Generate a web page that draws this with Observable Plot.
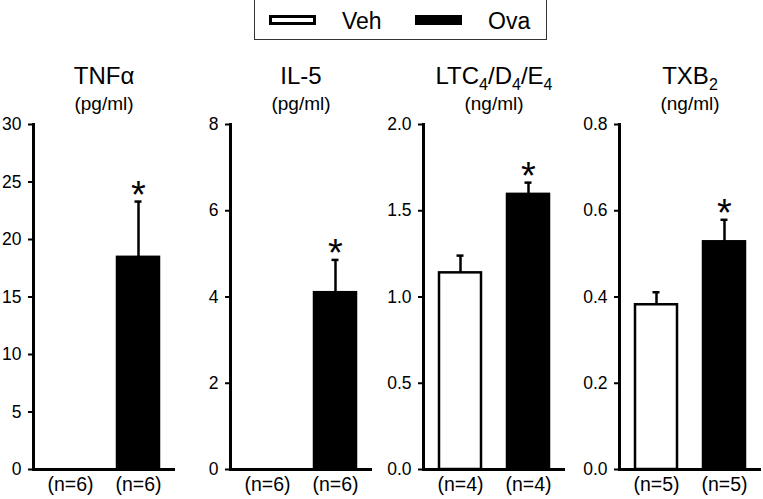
<!DOCTYPE html>
<html><head><meta charset="utf-8">
<script src="https://cdn.jsdelivr.net/npm/d3@7"></script>
<script src="https://cdn.jsdelivr.net/npm/@observablehq/plot@0.6"></script>
<style>
body{margin:0;background:#fff;font-family:"Liberation Sans",Arial,sans-serif;}
#root{position:relative;width:763px;height:499px;overflow:hidden;background:#fff;}
.title{position:absolute;text-align:center;font-size:24px;line-height:24px;white-space:nowrap;color:#000}
.title sub{font-size:16px;vertical-align:-6px;line-height:0}
.unit{position:absolute;text-align:center;font-size:19px;line-height:19px;white-space:nowrap;color:#000}
.panel{position:absolute;top:100px}
#legend{position:absolute;left:254px;top:-1px;width:293px;height:41px;border:1px solid #333;box-sizing:border-box;}
.sw{position:absolute;top:15px;width:47px;height:10px;border:3px solid #000;box-sizing:border-box;}
.lt{position:absolute;top:9.5px;font-size:23px;line-height:23px;color:#000}
</style></head><body><div id="root"><div id="legend"></div></div>
<script>
// ---- data ----
const groups = ["Veh", "Ova"];
const groupColors = ["#fff", "#000"];
const panelTitles = ["TNFα", "IL-5", "LTC_4/D_4/E_4", "TXB_2"];
const panelUnits = ["(pg/ml)", "(pg/ml)", "(ng/ml)", "(ng/ml)"];
const vehMean = [0, 0, 1.14, 0.382];
const vehErr = [0, 0, 0.10, 0.029];
const ovaMean = [18.45, 4.10, 1.595, 0.528];
const ovaErr = [4.85, 0.76, 0.068, 0.051];
const vehN = [6, 6, 4, 5];
const ovaN = [6, 6, 4, 5];
const ovaSignificant = [true, true, true, true];
const yMax = [30, 8, 2.0, 0.8];
const yTicks = [[0, 5, 10, 15, 20, 25, 30], [0, 2, 4, 6, 8], [0, 0.5, 1.0, 1.5, 2.0], [0, 0.2, 0.4, 0.6, 0.8]];
const yTickFormats = ["d", "d", ".1f", ".1f"];

// ---- layout ----
const axisXs = [33, 230, 423, 619];
const innerW = 142, mLeft = 40, mRight = 2;
const root = document.getElementById("root");

// legend
const legend = document.getElementById("legend");
const swLeft = [14, 160], txtLeft = [87, 233];
groups.forEach((g, j) => {
  const sw = document.createElement("div");
  sw.className = "sw"; sw.style.left = swLeft[j] + "px"; sw.style.background = groupColors[j];
  legend.appendChild(sw);
  const t = document.createElement("div");
  t.className = "lt"; t.style.left = txtLeft[j] + "px"; t.textContent = g;
  legend.appendChild(t);
});

panelTitles.forEach((title, i) => {
  const data = groups.map((g, j) => ({
    group: g,
    mean: j ? ovaMean[i] : vehMean[i],
    err: j ? ovaErr[i] : vehErr[i],
    n: j ? ovaN[i] : vehN[i],
    sig: j ? ovaSignificant[i] : false
  }));
  const nOf = Object.fromEntries(data.map(d => [d.group, d.n]));
  const withErr = data.filter(d => d.err > 0);
  const chart = Plot.plot({
    width: mLeft + innerW + mRight, height: 399,
    marginLeft: mLeft, marginRight: mRight, marginTop: 24, marginBottom: 30,
    style: {fontFamily: "'Liberation Sans', Arial, sans-serif", fontSize: "17.5px", color: "#000", background: "transparent", overflow: "visible"},
    x: {domain: groups, paddingInner: 0.386, paddingOuter: 0.23, axis: null},
    y: {domain: [0, yMax[i]], axis: null},
    color: {domain: groups, range: groupColors},
    marks: [
      Plot.ruleX(withErr, {x: "group", y1: "mean", y2: d => d.mean + d.err, strokeWidth: 2.5}),
      Plot.tickY(withErr, {x: "group", y: d => d.mean + d.err, strokeWidth: 2.5, insetLeft: 17.5, insetRight: 17.5}),
      Plot.barY(data.filter(d => d.mean > 0), {x: "group", y: "mean", fill: "group", stroke: "#000", strokeWidth: 2.5}),
      Plot.text(data.filter(d => d.sig), {x: "group", y: d => d.mean + d.err, text: () => "*", fontSize: 38, lineAnchor: "middle", dy: -6}),
      Plot.ruleY([0], {strokeWidth: 3}),
      Plot.frame({anchor: "left", strokeWidth: 3}),
      Plot.axisY({ticks: yTicks[i], tickFormat: d3.format(yTickFormats[i]), tickSize: 5, tickPadding: 7, strokeWidth: 2, label: null}),
      Plot.axisX({tickSize: 0, tickPadding: 8, tickFormat: g => `(n=${nOf[g]})`, label: null, fontSize: 19.5})
    ]
  });
  chart.classList.add("panel");
  chart.style.left = (axisXs[i] - mLeft) + "px";
  root.appendChild(chart);

  const cx = axisXs[i] + innerW / 2;
  const t = document.createElement("div");
  t.className = "title";
  t.style.left = (cx - 90) + "px"; t.style.width = "180px"; t.style.top = "64px";
  t.innerHTML = title.replace(/_(\d)/g, "<sub>$1</sub>");
  root.appendChild(t);
  const u = document.createElement("div");
  u.className = "unit";
  u.style.left = (cx - 90) + "px"; u.style.width = "180px"; u.style.top = "94px";
  u.textContent = panelUnits[i];
  root.appendChild(u);
});
</script></body></html>
